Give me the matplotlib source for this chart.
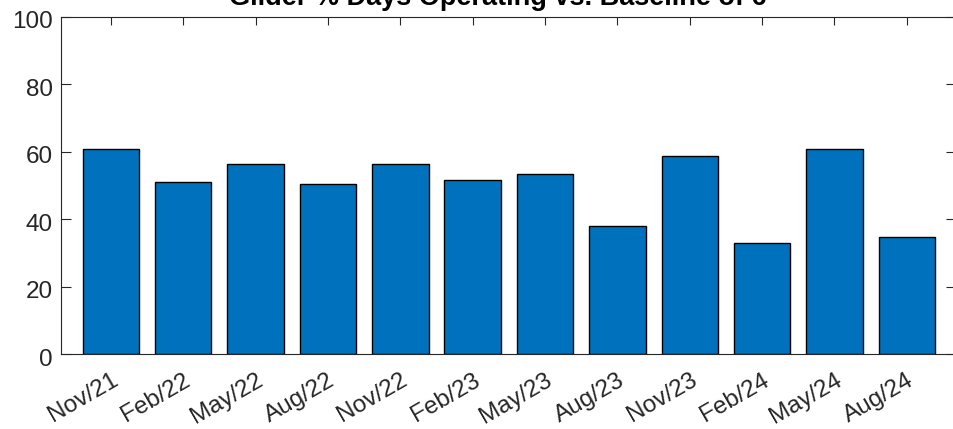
import matplotlib
matplotlib.use("Agg")
import matplotlib.pyplot as plt
import matplotlib.transforms as mtransforms
import numpy as np

categories = ["Nov/21", "Feb/22", "May/22", "Aug/22", "Nov/22", "Feb/23",
              "May/23", "Aug/23", "Nov/23", "Feb/24", "May/24", "Aug/24"]
values = [60.8, 51.1, 56.5, 50.5, 56.5, 51.5, 53.3, 38.0, 58.8, 32.9, 60.8, 34.7]
yticks = [0, 20, 40, 60, 80, 100]
title = "Glider % Days Operating vs. Baseline of 6"

plt.rcParams['font.family'] = ['Liberation Sans', 'DejaVu Sans']
fig = plt.figure(figsize=(9.54, 4.29), dpi=100)
ax = fig.add_axes([61/954, 1-354/429, (956-61)/954, (354-17)/429])

x = np.arange(1, len(categories) + 1)
ax.bar(x, values, width=0.78, color="#0072BD", edgecolor="black", linewidth=1.0, zorder=2)
ax.set_xlim(0.31, 12.68)
ax.set_ylim(0, 100)
ax.set_yticks(yticks)
ax.set_xticks(x)
ax.set_xticklabels(categories, rotation=30, ha='right', va='top', rotation_mode='anchor')

dark = "#262626"
for s in ax.spines.values():
    s.set_color(dark)
    s.set_linewidth(0.8)
ax.tick_params(axis='both', direction='in', width=0.8, color=dark,
               labelcolor=dark, labelsize=17.5, top=True, right=True)
ax.tick_params(axis='x', length=5.8, pad=11)
ax.tick_params(axis='y', length=7.2, pad=6)

off = mtransforms.ScaledTranslation(0, -3/100, fig.dpi_scale_trans)
for lbl in ax.get_yticklabels():
    lbl.set_transform(lbl.get_transform() + off)

fig.text(498 / 954, 1 - 5/429, title, ha='center', va='baseline',
         fontsize=19.5, fontweight='bold', color='black')

fig.savefig("out.png", dpi=100)
